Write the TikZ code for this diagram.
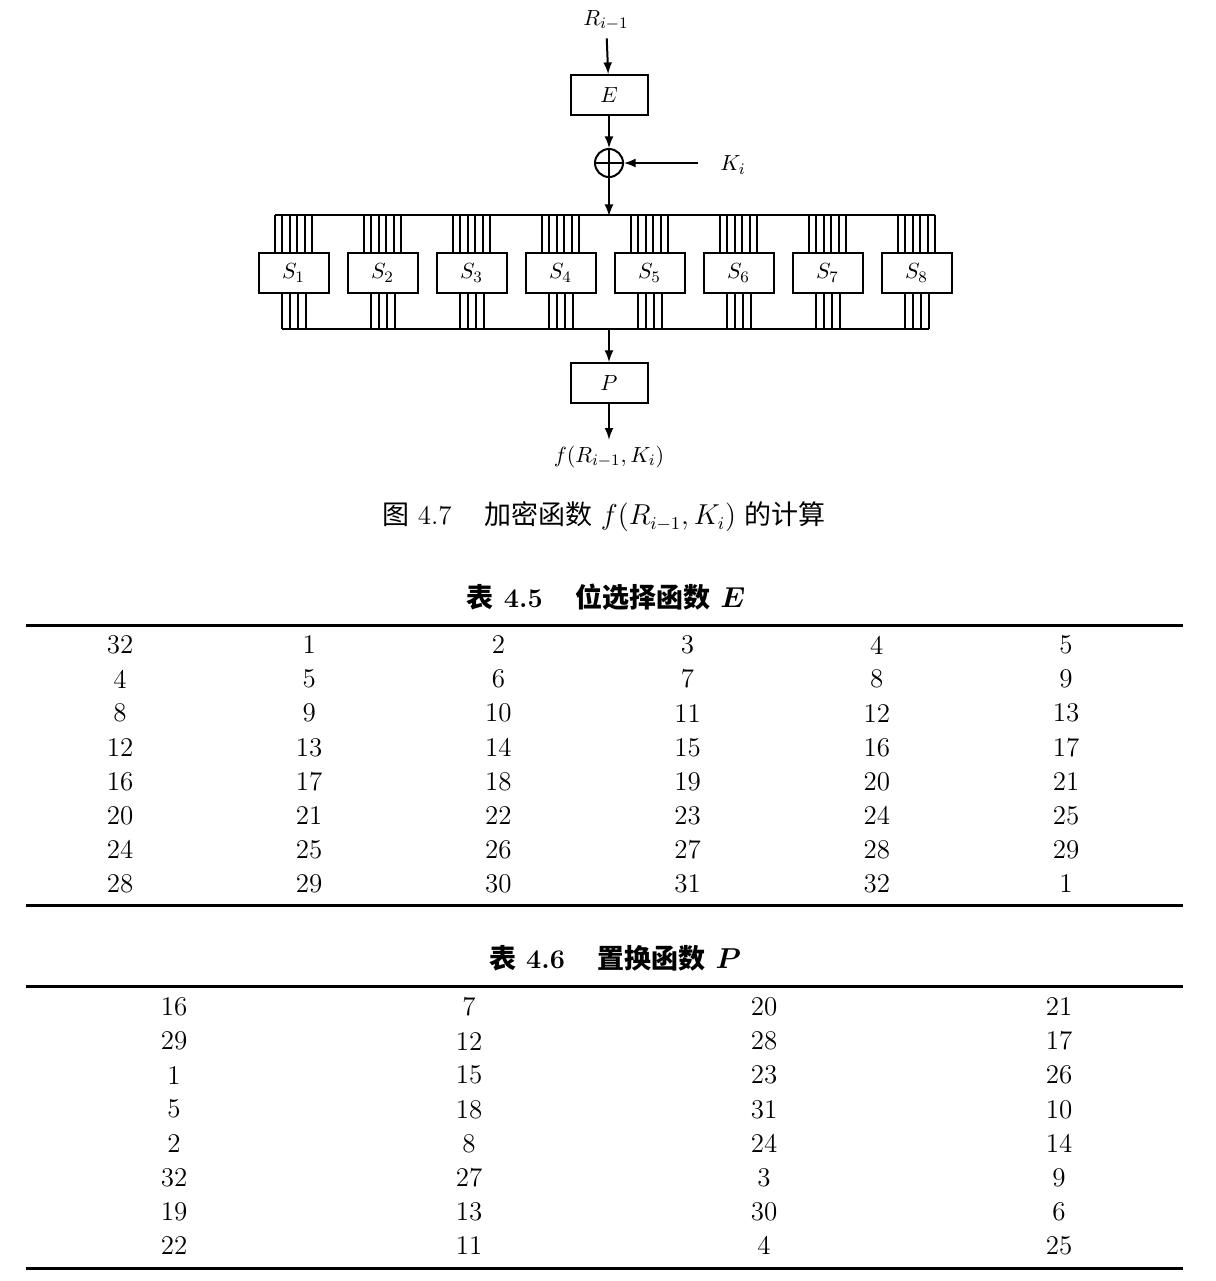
\documentclass[tikz,border=0pt]{standalone}
\usepackage{fontspec}
\usepackage{bm}
\newfontfamily\cjk{Noto Sans CJK SC}
\usetikzlibrary{arrows, positioning, calc}

\begin{document}
\begin{tikzpicture}[
        x=0.5pt, y=-0.5pt, >=latex,
        every node/.style={inner sep=0pt, font=\fontsize{11}{13}\selectfont},
        wire/.style={line width=1pt},
        fbox/.style={draw, line width=1pt, minimum width=38.5pt, minimum height=20pt},
        sbox/.style={draw, line width=1pt, minimum width=35pt, minimum height=20pt},
        cell/.style={font=\fontsize{13.5}{16}\selectfont},
        title/.style={font=\fontsize{13.5}{16}\selectfont\bfseries},
        rule/.style={line width=1.5pt}
    ]
    \useasboundingbox (0,0) rectangle (1216,1281);

    % Funktion f
    \node (R) at (606,20) {$R_{i-1}$};
    \node[fbox] (E) at (609,95) {$E$};
    \node[circle, draw, line width=1pt, minimum size=14pt] (X) at (609,163) {};
    \node (K) at (733,165) {$K_i$};
    \coordinate (Kin) at (698,163);
    \node[fbox] (P) at (609,383) {$P$};
    \node (f) at (609,457) {$f(R_{i-1},K_i)$};

    % S-Boxen
    \foreach \k in {1,...,8}
        \node[sbox] (S\k) at ({293.5+89*(\k-1)},273) {$S_{\k}$};

    \coordinate (busin) at (609,216);
    \coordinate (busout) at (609,328);

    \foreach \k in {1,...,8} {
        \foreach \j in {0,...,5}
            \draw[wire] ($(S\k.north)+({-18.5+7.4*\j},0)$) -- ++(0,-37);
        \foreach \j in {0,...,3}
            \draw[wire] ($(S\k.south)+({-12+8*\j},0)$) -- ++(0,35);
    }
    \draw[wire] ($(S1.north)+(-18.5,-37)$) -- ($(S8.north)+(18.5,-37)$);
    \draw[wire] ($(S1.south)+(-12,35)$) -- ($(S8.south)+(12,35)$);

    % Pfeile
    \draw[wire, ->, shorten <=4pt] (R) -- (E);
    \draw[wire, ->] (E) -- (X);
    \draw[wire, ->] (Kin) -- (X);
    \draw[wire] (X.north) -- (X.south);
    \draw[wire] (X.west) -- (X.east);
    \draw[wire, ->] (X) -- (busin);
    \draw[wire, ->] (busout) -- (P);
    \draw[wire, ->, shorten >=3pt] (P) -- (f);

    \node[cell] (cap) at (604,517) {{\cjk 图}~4.7\hspace{1.2em}{\cjk 加密函数}\ $f(R_{i-1},K_i)$\ {\cjk 的计算}};

    % Tabelle E
    \node[title] (tE) at (606,597) {{\cjk 表}~4.5\hspace{1.2em}{\cjk 位选择函数}\ $\bm{E}$};
    \draw[rule] (26,625) -- (1183,625);
    \foreach \row [count=\r] in {{32,1,2,3,4,5},{4,5,6,7,8,9},{8,9,10,11,12,13},
            {12,13,14,15,16,17},{16,17,18,19,20,21},{20,21,22,23,24,25},
            {24,25,26,27,28,29},{28,29,30,31,32,1}}
        \foreach \v [count=\c] in \row
            \node[cell] (e\r-\c) at ({120+189.2*(\c-1)},{645+34.1*(\r-1)}) {\v};
    \draw[rule] (26,905) -- (1183,905);

    % Tabelle P
    \node[title] (tP) at (615,958) {{\cjk 表}~4.6\hspace{1.2em}{\cjk 置换函数}\ $\bm{P}$};
    \draw[rule] (26,986) -- (1183,986);
    \foreach \row [count=\r] in {{16,7,20,21},{29,12,28,17},{1,15,23,26},{5,18,31,10},
            {2,8,24,14},{32,27,3,9},{19,13,30,6},{22,11,4,25}}
        \foreach \v [count=\c] in \row
            \node[cell] (p\r-\c) at ({174+295*(\c-1)},{1007+34.1*(\r-1)}) {\v};
    \draw[rule] (26,1268) -- (1183,1268);
\end{tikzpicture}
\end{document}
